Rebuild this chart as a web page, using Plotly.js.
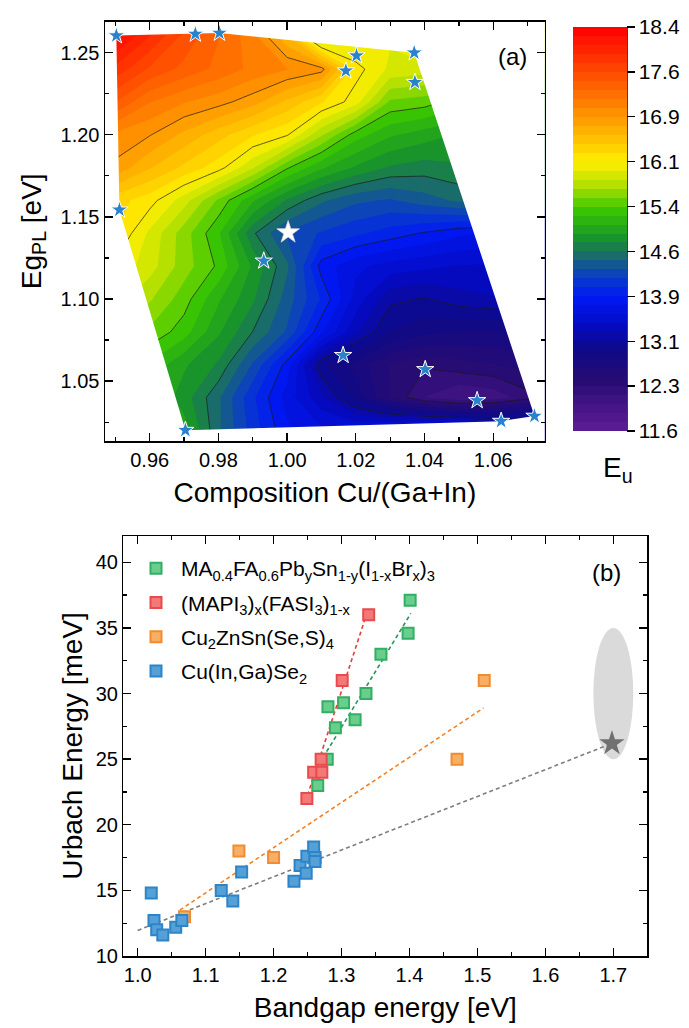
<!DOCTYPE html>
<html>
<head>
<meta charset="utf-8">
<script src="https://cdn.plot.ly/plotly-3.0.1.min.js"></script>
<style>
  html, body { margin: 0; padding: 0; background: #fff; }
  #chart { width: 689px; height: 1028px; }
</style>
</head>
<body>
<div id="chart"></div>
<script>
// ---------- (a) Urbach energy over composition / PL bandgap ----------
// measured samples (blue stars) and the highlighted sample (white star)
const sampleCu = [0.9503, 0.9733, 0.9803, 1.0202, 1.0171, 1.0370, 1.0372, 0.9512, 0.9932, 1.0163, 1.0402, 1.0553, 1.0623, 0.9704, 1.0720];
const sampleEg = [1.2604, 1.2614, 1.2620, 1.2482, 1.2390, 1.2500, 1.2320, 1.1543, 1.1232, 1.0657, 1.0571, 1.0382, 1.0256, 1.0201, 1.0287];
const markedCu = [1.0003];
const markedEg = [1.1405];

// Eu map on a regular composition x bandgap grid (rows = bandgap)
const gridCu = [0.94, 0.95, 0.96, 0.97, 0.98, 0.99, 1.00, 1.01, 1.02, 1.03, 1.04, 1.05, 1.06, 1.07, 1.08];
const gridEg = [1.00, 1.02, 1.04, 1.06, 1.08, 1.10, 1.12, 1.14, 1.16, 1.18, 1.20, 1.22, 1.24, 1.26, 1.28];
const euGrid = [
  [15.9, 15.7, 15.5, 15.2, 14.7, 14.3, 13.95, 13.8, 13.8, 13.9, 14.0, 14.0, 13.9, 13.8, 13.7],
  [15.7, 15.5, 15.3, 15.0, 14.5, 14.1, 13.75, 13.6, 13.6, 13.7, 13.8, 13.8, 13.7, 13.6, 13.5],
  [15.5, 15.3, 15.1, 14.85, 14.5, 14.05, 13.65, 13.3, 12.9, 12.5, 12.2, 12.05, 12.1, 12.3, 12.5],
  [15.5, 15.3, 15.2, 14.95, 14.75, 14.3, 13.8, 13.0, 12.75, 12.5, 12.38, 12.45, 12.5, 12.55, 12.6],
  [15.9, 15.7, 15.5, 15.3, 14.95, 14.62, 14.3, 13.75, 13.3, 12.95, 12.85, 12.8, 12.8, 12.85, 12.9],
  [16.0, 15.9, 15.7, 15.45, 15.1, 14.8, 14.4, 14.0, 13.5, 13.15, 13.1, 13.2, 13.25, 13.3, 13.35],
  [16.4, 16.1, 15.9, 15.6, 15.35, 14.9, 14.5, 13.8, 13.6, 13.5, 13.45, 13.4, 13.4, 13.4, 13.4],
  [16.6, 16.3, 15.95, 15.6, 15.25, 14.65, 14.3, 14.15, 14.05, 13.95, 13.85, 13.75, 13.7, 13.7, 13.7],
  [16.6, 16.35, 16.2, 15.9, 15.5, 15.1, 14.75, 14.5, 14.35, 14.3, 14.4, 14.5, 14.6, 14.6, 14.6],
  [17.0, 16.85, 16.6, 16.4, 16.2, 15.85, 15.4, 15.1, 14.9, 14.75, 14.7, 14.75, 14.7, 14.7, 14.7],
  [17.2, 17.0, 16.9, 16.7, 16.5, 16.3, 16.15, 15.7, 15.3, 15.1, 15.0, 14.9, 14.8, 14.8, 14.8],
  [17.8, 17.5, 17.2, 17.05, 16.95, 16.8, 16.55, 16.3, 16.05, 15.5, 15.45, 15.3, 15.2, 15.1, 15.0],
  [18.2, 17.9, 17.62, 17.45, 17.3, 17.15, 17.05, 16.95, 16.2, 15.95, 15.9, 15.8, 15.7, 15.6, 15.5],
  [18.6, 18.3, 17.95, 17.6, 17.35, 17.1, 16.6, 15.7, 15.9, 16.0, 16.3, 16.3, 16.2, 16.1, 16.0],
  [18.8, 18.6, 18.3, 18.0, 17.6, 17.2, 16.7, 16.0, 16.0, 16.1, 16.4, 16.5, 16.5, 16.5, 16.5]
];
const euTickVals = [11.6, 12.356, 13.111, 13.867, 14.622, 15.378, 16.133, 16.889, 17.644, 18.4];
const euTickText = ['11.6', '12.3', '13.1', '13.9', '14.6', '15.4', '16.1', '16.9', '17.6', '18.4'];

// ---------- (b) Urbach energy vs bandgap ----------
const perovMixEg = [1.401, 1.398, 1.358, 1.336, 1.303, 1.280, 1.320, 1.291, 1.279, 1.265];
const perovMixEu = [37.1, 34.6, 33.0, 30.0, 29.3, 29.0, 28.0, 27.4, 25.0, 23.0];
const mapiFasiEg = [1.340, 1.301, 1.270, 1.259, 1.271, 1.249];
const mapiFasiEu = [36.0, 31.0, 25.0, 24.0, 24.0, 22.0];
const cztsEg = [1.510, 1.470, 1.149, 1.200, 1.069];
const cztsEu = [31.0, 25.0, 18.0, 17.5, 13.0];
const cigsEg = [1.020, 1.024, 1.028, 1.037, 1.056, 1.065, 1.123, 1.140, 1.153, 1.230, 1.239, 1.248, 1.249, 1.259, 1.261, 1.261];
const cigsEu = [14.8, 12.7, 12.0, 11.6, 12.2, 12.7, 15.0, 14.2, 16.4, 15.7, 16.9, 16.3, 17.6, 18.3, 17.5, 17.2];
const thisWorkEg = [1.698];
const thisWorkEu = [26.2];
const thisWorkSpanEg = [1.6706, 1.7294];
const thisWorkSpanEu = [25.0, 35.0];
// linear trend lines (end points)
const fitPerovMixEg = [1.262, 1.402];
const fitPerovMixEu = [24.2, 36.1];
const fitMapiFasiEg = [1.250, 1.336];
const fitMapiFasiEu = [22.25, 35.9];
const fitCztsEg = [1.062, 1.509];
const fitCztsEu = [13.5, 28.9];
const fitCigsEg = [1.000, 1.698];
const fitCigsEu = [11.95, 26.2];

const seriesNames = [
  'MA<sub>0.4</sub>FA<sub>0.6</sub>Pb<sub>y</sub>Sn<sub>1-y</sub>(I<sub>1-x</sub>Br<sub>x</sub>)<sub>3</sub>',
  '(MAPI<sub>3</sub>)<sub>x</sub>(FASI<sub>3</sub>)<sub>1-x</sub>',
  'Cu<sub>2</sub>ZnSn(Se,S)<sub>4</sub>',
  'Cu(In,Ga)Se<sub>2</sub>'
];

// ---------- layout constants (pixels of a 689 x 1028 page) ----------
const W = 689, H = 1028;
const px = v => v / W;
const py = v => 1 - v / H;
const FONT = '"Liberation Sans", Arial, sans-serif';

const rangeA_x = [0.947, 1.075];
const rangeA_y = [1.0135, 1.269];
const rangeB_x = [0.979, 1.75];
const rangeB_y = [10, 42];

const rainbow = [
  [0.00, 'rgb(95,30,150)'],
  [0.06, 'rgb(70,20,135)'],
  [0.12, 'rgb(40,12,115)'],
  [0.20, 'rgb(15,10,135)'],
  [0.26, 'rgb(5,10,195)'],
  [0.33, 'rgb(0,25,245)'],
  [0.38, 'rgb(10,60,200)'],
  [0.43, 'rgb(25,105,110)'],
  [0.48, 'rgb(25,150,40)'],
  [0.55, 'rgb(60,200,0)'],
  [0.61, 'rgb(180,225,0)'],
  [0.665, 'rgb(255,240,0)'],
  [0.72, 'rgb(255,195,0)'],
  [0.78, 'rgb(255,150,0)'],
  [0.85, 'rgb(255,100,0)'],
  [0.93, 'rgb(255,45,0)'],
  [1.00, 'rgb(255,0,0)']
];

// convex outline of the measured samples (monotone chain, counter-clockwise)
function convexHull(xs, ys) {
  const pts = xs.map((x, i) => [x, ys[i]]).sort((a, b) => a[0] - b[0] || a[1] - b[1]);
  const cross = (o, a, b) => (a[0] - o[0]) * (b[1] - o[1]) - (a[1] - o[1]) * (b[0] - o[0]);
  const lower = [], upper = [];
  for (const p of pts) {
    while (lower.length >= 2 && cross(lower[lower.length - 2], lower[lower.length - 1], p) <= 0) lower.pop();
    lower.push(p);
  }
  for (let i = pts.length - 1; i >= 0; i--) {
    const p = pts[i];
    while (upper.length >= 2 && cross(upper[upper.length - 2], upper[upper.length - 1], p) <= 0) upper.pop();
    upper.push(p);
  }
  upper.pop(); lower.pop();
  return lower.concat(upper);
}
const hull = convexHull(sampleCu.concat(markedCu), sampleEg.concat(markedEg));
// white cover outside the sampled area: frame (clockwise) with the hull cut out
const pad = 0.05;
const fx0 = rangeA_x[0] - pad, fx1 = rangeA_x[1] + pad, fy0 = rangeA_y[0] - pad, fy1 = rangeA_y[1] + pad;
const maskX = hull.map(p => p[0]).concat([hull[0][0], fx0, fx1, fx1, fx0, fx0, hull[0][0]]);
const maskY = hull.map(p => p[1]).concat([hull[0][1], fy1, fy1, fy0, fy0, fy1, hull[0][1]]);

// colour bar geometry
const cbLeft = 573, cbThick = 54, cbTop = 27, cbBottom = 431;

const traces = [
  {
    type: 'contour', x: gridCu, y: gridEg, z: euGrid, xaxis: 'x', yaxis: 'y',
    colorscale: rainbow, zmin: 11.6, zmax: 18.4, autocontour: false,
    contours: { start: 11.6, end: 18.4, size: 0.1511, coloring: 'fill', showlines: false },
    line: { width: 0, smoothing: 0 },
    hoverinfo: 'skip', showlegend: false,
    colorbar: {
      x: px(cbLeft), xanchor: 'left', xpad: 0,
      y: py((cbTop + cbBottom) / 2), yanchor: 'middle', ypad: 0,
      len: (cbBottom - cbTop) / H, lenmode: 'fraction',
      thickness: cbThick, thicknessmode: 'pixels',
      outlinewidth: 0,
      tickmode: 'array', tickvals: euTickVals, ticktext: euTickText,
      ticks: 'outside', ticklen: 8, tickwidth: 1.3, tickcolor: '#000',
      tickfont: { family: FONT, size: 21, color: '#000' }
    }
  },
  {
    type: 'contour', x: gridCu, y: gridEg, z: euGrid, xaxis: 'x', yaxis: 'y',
    autocontour: false, showscale: false, showlegend: false,
    contours: { start: 12.356, end: 17.644, size: 0.7556, coloring: 'none', showlines: true },
    line: { color: '#1a1a1a', width: 0.7, smoothing: 0 },
    hoverinfo: 'skip'
  },
  {
    type: 'scatter', mode: 'lines', x: maskX, y: maskY, xaxis: 'x', yaxis: 'y',
    fill: 'toself', fillcolor: '#ffffff', line: { width: 0 },
    hoverinfo: 'skip', showlegend: false
  },
  {
    type: 'scatter', mode: 'markers', x: sampleCu, y: sampleEg, xaxis: 'x', yaxis: 'y',
    marker: { symbol: 'star', size: 13, color: 'rgb(40,130,205)', line: { color: '#ffffff', width: 1 } },
    showlegend: false
  },
  {
    type: 'scatter', mode: 'markers', x: markedCu, y: markedEg, xaxis: 'x', yaxis: 'y',
    marker: { symbol: 'star', size: 17, color: '#ffffff', line: { color: 'rgb(215,215,215)', width: 0.8 } },
    showlegend: false
  },
  // trend lines
  { type: 'scatter', mode: 'lines', x: fitCigsEg, y: fitCigsEu, xaxis: 'x2', yaxis: 'y2',
    line: { color: 'rgb(125,125,125)', width: 1.6, dash: '4px,3px' }, showlegend: false, hoverinfo: 'skip' },
  { type: 'scatter', mode: 'lines', x: fitCztsEg, y: fitCztsEu, xaxis: 'x2', yaxis: 'y2',
    line: { color: 'rgb(240,130,40)', width: 1.6, dash: '4px,3px' }, showlegend: false, hoverinfo: 'skip' },
  { type: 'scatter', mode: 'lines', x: fitPerovMixEg, y: fitPerovMixEu, xaxis: 'x2', yaxis: 'y2',
    line: { color: 'rgb(35,150,90)', width: 1.6, dash: '4px,3px' }, showlegend: false, hoverinfo: 'skip' },
  { type: 'scatter', mode: 'lines', x: fitMapiFasiEg, y: fitMapiFasiEu, xaxis: 'x2', yaxis: 'y2',
    line: { color: 'rgb(230,60,60)', width: 1.6, dash: '4px,3px' }, showlegend: false, hoverinfo: 'skip' },
  // data series
  { type: 'scatter', mode: 'markers', name: seriesNames[0], x: perovMixEg, y: perovMixEu, xaxis: 'x2', yaxis: 'y2',
    legendgroup: 'g1',
    marker: { symbol: 'square', size: 11, color: 'rgb(105,205,140)', line: { color: 'rgb(50,175,100)', width: 2 } } },
  { type: 'scatter', mode: 'markers', name: seriesNames[1], x: mapiFasiEg, y: mapiFasiEu, xaxis: 'x2', yaxis: 'y2',
    legendgroup: 'g2',
    marker: { symbol: 'square', size: 11, color: 'rgb(245,120,120)', line: { color: 'rgb(232,75,75)', width: 2 } } },
  { type: 'scatter', mode: 'markers', name: seriesNames[2], x: cztsEg, y: cztsEu, xaxis: 'x2', yaxis: 'y2',
    legendgroup: 'g3',
    marker: { symbol: 'square', size: 11, color: 'rgb(248,175,100)', line: { color: 'rgb(240,140,50)', width: 2 } } },
  { type: 'scatter', mode: 'markers', name: seriesNames[3], x: cigsEg, y: cigsEu, xaxis: 'x2', yaxis: 'y2',
    legendgroup: 'g4',
    marker: { symbol: 'square', size: 11, color: 'rgb(85,160,215)', line: { color: 'rgb(45,132,200)', width: 2 } } },
  { type: 'scatter', mode: 'markers', x: thisWorkEg, y: thisWorkEu, xaxis: 'x2', yaxis: 'y2',
    marker: { symbol: 'star', size: 19, color: 'rgb(112,112,112)' }, showlegend: false }
];

const axisCommon = {
  showline: true, linecolor: '#000', linewidth: 1.5, mirror: 'allticks',
  ticks: 'inside', ticklen: 8, tickwidth: 1.3, tickcolor: '#000',
  showgrid: false, zeroline: false, automargin: false,
  tickfont: { family: FONT, size: 20, color: '#000' }
};

const layout = {
  width: W, height: H,
  margin: { l: 0, r: 0, t: 0, b: 0, pad: 0 },
  paper_bgcolor: '#fff', plot_bgcolor: '#fff',
  font: { family: FONT, color: '#000' },
  hovermode: false,
  xaxis: Object.assign({}, axisCommon, {
    domain: [px(105), px(544.8)], anchor: 'y', range: rangeA_x,
    tick0: 0.96, dtick: 0.02, tickformat: '.2f',
    minor: { dtick: 0.01, ticklen: 4, tickwidth: 1.2, tickcolor: '#000', ticks: 'inside' },
    title: { text: 'Composition Cu/(Ga+In)', standoff: 13, font: { family: FONT, size: 28, color: '#000' } }
  }),
  yaxis: Object.assign({}, axisCommon, {
    domain: [py(441), py(21.5)], anchor: 'x', range: rangeA_y,
    tick0: 1.0, dtick: 0.05, tickformat: '.2f',
    minor: { dtick: 0.025, ticklen: 4, tickwidth: 1.2, tickcolor: '#000', ticks: 'inside' },
    title: { text: 'Eg<sub>PL</sub> [eV]', standoff: 11, font: { family: FONT, size: 28, color: '#000' } }
  }),
  xaxis2: Object.assign({}, axisCommon, {
    domain: [px(123.4), px(647.3)], anchor: 'y2', range: rangeB_x,
    tick0: 1.0, dtick: 0.1, tickformat: '.1f',
    minor: { dtick: 0.05, ticklen: 4, tickwidth: 1.2, tickcolor: '#000', ticks: 'inside' },
    title: { text: 'Bandgap energy [eV]', standoff: 13, font: { family: FONT, size: 28, color: '#000' } }
  }),
  yaxis2: Object.assign({}, axisCommon, {
    domain: [py(956), py(536)], anchor: 'x2', range: rangeB_y,
    tick0: 10, dtick: 5,
    minor: { dtick: 2.5, ticklen: 4, tickwidth: 1.2, tickcolor: '#000', ticks: 'inside' },
    title: { text: 'Urbach Energy [meV]', standoff: 5, font: { family: FONT, size: 28, color: '#000' } }
  }),
  legend: {
    x: px(131), xanchor: 'left', y: py(548), yanchor: 'top',
    bgcolor: 'rgba(0,0,0,0)', borderwidth: 0,
    font: { family: FONT, size: 21, color: '#000' },
    tracegroupgap: 4, itemwidth: 40
  },
  shapes: [
    { type: 'circle', xref: 'x2', yref: 'y2', layer: 'below',
      x0: thisWorkSpanEg[0], x1: thisWorkSpanEg[1], y0: thisWorkSpanEu[0], y1: thisWorkSpanEu[1],
      fillcolor: 'rgb(218,218,218)', line: { width: 0 } },
    { type: 'line', xref: 'paper', yref: 'paper',
      x0: px(cbLeft + cbThick), x1: px(cbLeft + cbThick), y0: py(cbBottom), y1: py(cbTop),
      line: { color: '#000', width: 1.5 } }
  ],
  annotations: [
    { text: '(a)', xref: 'paper', yref: 'paper', x: px(512), y: py(56), showarrow: false,
      xanchor: 'center', yanchor: 'middle', font: { family: FONT, size: 24, color: '#000' } },
    { text: '(b)', xref: 'paper', yref: 'paper', x: px(606.5), y: py(572.5), showarrow: false,
      xanchor: 'center', yanchor: 'middle', font: { family: FONT, size: 24, color: '#000' } },
    { text: 'E<sub>u</sub>', xref: 'paper', yref: 'paper', x: px(cbLeft + cbThick / 2 + 18), y: py(470), showarrow: false,
      xanchor: 'center', yanchor: 'middle', font: { family: FONT, size: 28, color: '#000' } }
  ]
};

Plotly.newPlot('chart', traces, layout, { displayModeBar: false, staticPlot: true });
</script>
</body>
</html>
